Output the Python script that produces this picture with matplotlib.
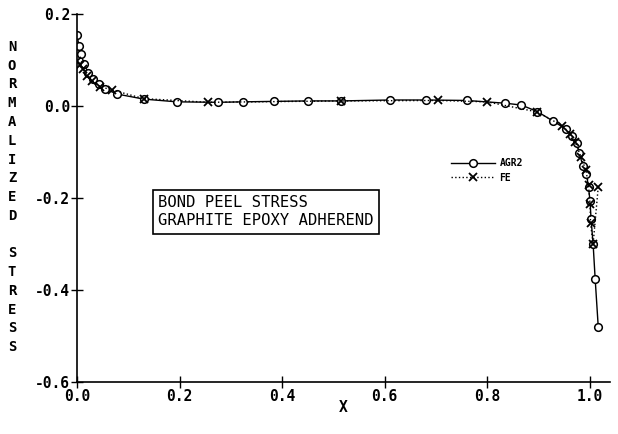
import matplotlib
matplotlib.use("Agg")
import matplotlib.pyplot as plt

# Данни - AGR2
x_agr2 = [0.0, 0.004, 0.008, 0.014, 0.022, 0.032, 0.043, 0.055, 0.078, 0.13,
          0.195, 0.276, 0.323, 0.385, 0.45, 0.515, 0.61, 0.68, 0.76, 0.836,
          0.867, 0.898, 0.929, 0.954, 0.966, 0.975, 0.98, 0.987, 0.994, 0.998,
          1.001, 1.003, 1.007, 1.011, 1.017]
y_agr2 = [0.154, 0.130, 0.113, 0.091, 0.072, 0.059, 0.048, 0.037, 0.026, 0.015,
          0.009, 0.008, 0.009, 0.010, 0.011, 0.011, 0.013, 0.013, 0.012, 0.006,
          0.002, -0.012, -0.033, -0.050, -0.065, -0.080, -0.102, -0.130, -0.148, -0.176,
          -0.207, -0.246, -0.300, -0.376, -0.480]

# Данни - FE
x_fe = [0.0, 0.006, 0.012, 0.02, 0.03, 0.045, 0.068, 0.13, 0.256, 0.515,
        0.705, 0.8, 0.898, 0.947, 0.962, 0.972, 0.983, 0.993, 0.998, 1.001,
        1.002, 1.007, 1.017]
y_fe = [0.098, 0.090, 0.080, 0.066, 0.054, 0.042, 0.035, 0.016, 0.008, 0.011,
        0.012, 0.009, -0.013, -0.043, -0.060, -0.078, -0.110, -0.140, -0.172, -0.212,
        -0.255, -0.300, -0.176]

xticks = [0.0, 0.2, 0.4, 0.6, 0.8, 1.0]
yticks = [-0.6, -0.4, -0.2, 0.0, 0.2]

font = "DejaVu Sans Mono"

fig = plt.figure(figsize=(6.18, 4.34), dpi=100)
ax = fig.add_axes([0.1246, 0.1198, 0.8625, 0.848])

ax.plot(x_agr2, y_agr2, color="black", lw=1.0, marker="o", ms=5.5,
        mfc="white", mec="black", mew=1.1, label="AGR2")
ax.plot(x_fe, y_fe, color="black", lw=1.0, ls=":", marker="x", ms=5.5,
        mew=1.3, label="FE")

ax.set_xlim(0, 1.04)
ax.set_ylim(-0.6, 0.2)
ax.set_xticks(xticks)
ax.set_yticks(yticks)
ax.set_xticklabels([f"{v:.1f}" for v in xticks], fontfamily=font, fontweight="bold", fontsize=10.5)
ax.set_yticklabels([f"{v:.1f}" for v in yticks], fontfamily=font, fontweight="bold", fontsize=10.5)
ax.tick_params(direction="inout", length=8, width=1, pad=1)
for s in ["top", "right"]:
    ax.spines[s].set_visible(False)
ax.spines["left"].set_linewidth(1.2)
ax.spines["bottom"].set_linewidth(1.2)

ax.set_xlabel("X", fontfamily=font, fontweight="bold", fontsize=10.5, labelpad=-3)

# вертикален надпис по букви
ylab = "NORMALIZED STRESS"
for i, ch in enumerate(ylab):
    fig.text(12 / 618, 1 - (47 + i * 18.75) / 434, ch, ha="center", va="center",
             fontfamily=font, fontweight="bold", fontsize=10)

leg = ax.legend(loc="center left", bbox_to_anchor=(0.685, 0.575), frameon=False,
                prop={"family": font, "weight": "bold", "size": 7},
                handlelength=4.5, handletextpad=0.5, labelspacing=0.45)

ax.text(0.158, -0.23, "BOND PEEL STRESS\nGRAPHITE EPOXY ADHEREND",
        fontfamily=font, fontsize=11.2, va="center", ha="left", linespacing=1.25,
        bbox=dict(boxstyle="square,pad=0.35", fc="white", ec="black", lw=1.2))

plt.savefig("out.png", dpi=100)
